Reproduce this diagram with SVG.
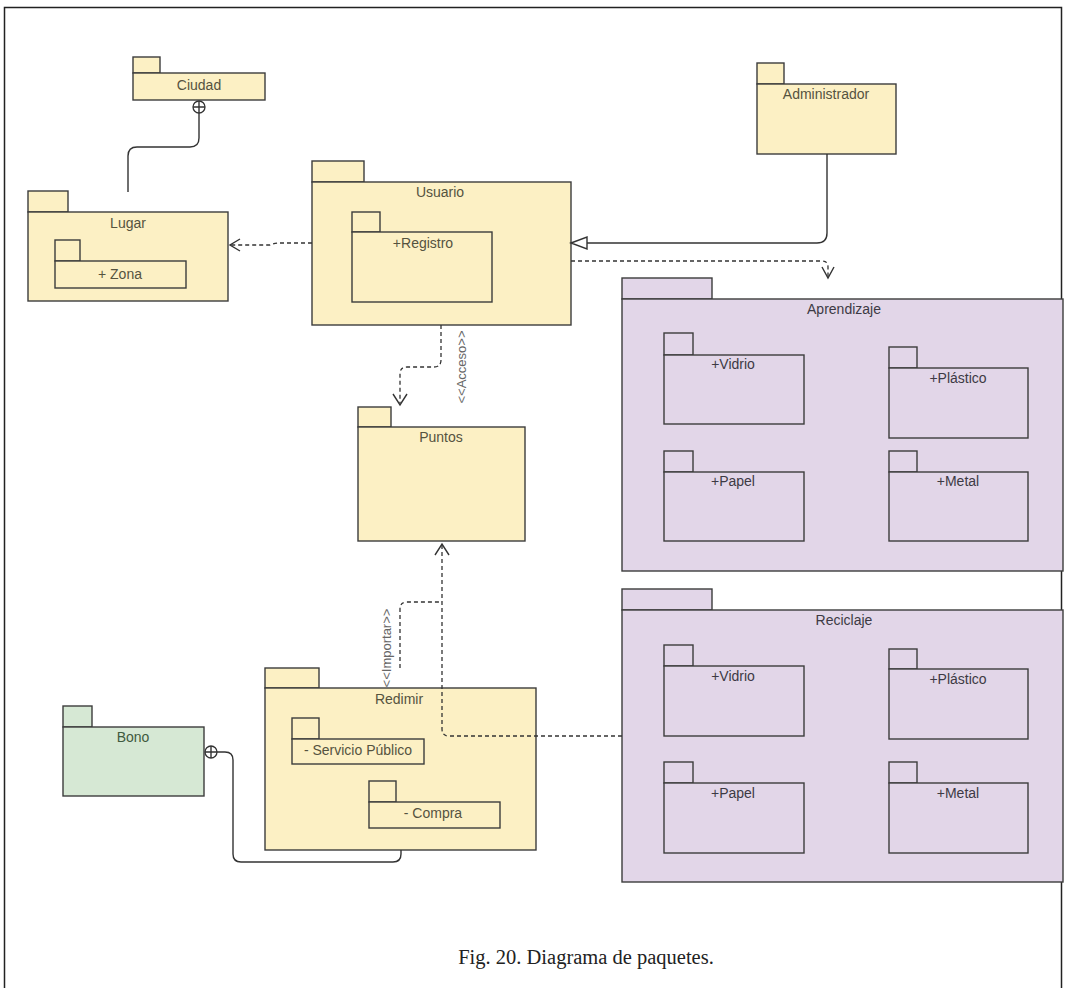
<svg xmlns="http://www.w3.org/2000/svg" width="1067" height="988" viewBox="0 0 1067 988">
<style>
.y{fill:#fcf0c4;stroke:#3c3c3c;stroke-width:1.4}
.p{fill:#e2d6e8;stroke:#3c3c3c;stroke-width:1.4}
.g{fill:#d6e8d4;stroke:#3c3c3c;stroke-width:1.4}
.t{font-family:"Liberation Sans",Arial,sans-serif;font-size:14px;fill:#55533f;text-anchor:middle}
.tp{font-family:"Liberation Sans",Arial,sans-serif;font-size:14px;fill:#3d3a44;text-anchor:middle}
.st{font-family:"Liberation Sans",Arial,sans-serif;font-size:13px;fill:#666;text-anchor:middle}
.dash{fill:none;stroke:#333;stroke-width:1.3;stroke-dasharray:4 3}
.solid{fill:none;stroke:#333;stroke-width:1.4}
.head{fill:none;stroke:#333;stroke-width:1.4}
</style>
<rect x="0" y="0" width="1067" height="988" fill="#fff"/>
<rect x="4.5" y="7.5" width="1057" height="995" fill="none" stroke="#222" stroke-width="1.5"/>

<g id="ciudad">
  <rect class="y" x="133" y="57" width="27" height="16"/>
  <rect class="y" x="133" y="73" width="132" height="27"/>
  <text class="t" x="199" y="90">Ciudad</text>
</g>

<g id="lugar">
  <rect class="y" x="28" y="191" width="40" height="21"/>
  <rect class="y" x="28" y="212" width="200" height="89"/>
  <text class="t" x="128" y="228">Lugar</text>
  <g id="zona">
    <rect class="y" x="55" y="240" width="25" height="21"/>
    <rect class="y" x="55" y="261" width="131" height="27"/>
    <text class="t" x="120" y="279">+ Zona</text>
  </g>
</g>

<g id="usuario">
  <rect class="y" x="312" y="161" width="52" height="21"/>
  <rect class="y" x="312" y="182" width="259" height="143"/>
  <text class="t" x="440" y="197">Usuario</text>
  <g id="registro">
    <rect class="y" x="352" y="212" width="28" height="20"/>
    <rect class="y" x="352" y="232" width="140" height="70"/>
    <text class="t" x="423" y="248">+Registro</text>
  </g>
</g>

<g id="administrador">
  <rect class="y" x="757" y="63" width="27" height="21"/>
  <rect class="y" x="757" y="84" width="139" height="70"/>
  <text class="t" x="826" y="99">Administrador</text>
</g>

<g id="puntos">
  <rect class="y" x="358" y="407" width="33" height="20"/>
  <rect class="y" x="358" y="427" width="167" height="114"/>
  <text class="t" x="441" y="442">Puntos</text>
</g>

<g id="redimir">
  <rect class="y" x="265" y="668" width="54" height="20"/>
  <rect class="y" x="265" y="688" width="271" height="162"/>
  <text class="t" x="399" y="704">Redimir</text>
  <g id="servicio">
    <rect class="y" x="292" y="718" width="27" height="21"/>
    <rect class="y" x="292" y="739" width="132" height="25"/>
    <text class="t" x="358" y="755">- Servicio Público</text>
  </g>
  <g id="compra">
    <rect class="y" x="369" y="781" width="27" height="21"/>
    <rect class="y" x="369" y="802" width="131" height="26"/>
    <text class="t" x="433" y="818">- Compra</text>
  </g>
</g>

<g id="bono">
  <rect class="g" x="63" y="706" width="29" height="21"/>
  <rect class="g" x="63" y="727" width="141" height="69"/>
  <text class="t" x="133" y="742" style="fill:#3f5a3e">Bono</text>
</g>

<g id="aprendizaje">
  <rect class="p" x="622" y="278" width="90" height="21"/>
  <rect class="p" x="622" y="299" width="441" height="272"/>
  <text class="tp" x="844" y="314">Aprendizaje</text>
  <g id="a-vidrio">
    <rect class="p" x="664" y="333" width="29" height="22"/>
    <rect class="p" x="664" y="355" width="140" height="69"/>
    <text class="tp" x="733" y="369">+Vidrio</text>
  </g>
  <g id="a-plastico">
    <rect class="p" x="889" y="347" width="28" height="21"/>
    <rect class="p" x="889" y="368" width="139" height="70"/>
    <text class="tp" x="958" y="383">+Plástico</text>
  </g>
  <g id="a-papel">
    <rect class="p" x="664" y="451" width="29" height="21"/>
    <rect class="p" x="664" y="472" width="140" height="69"/>
    <text class="tp" x="733" y="486">+Papel</text>
  </g>
  <g id="a-metal">
    <rect class="p" x="889" y="451" width="28" height="21"/>
    <rect class="p" x="889" y="472" width="139" height="69"/>
    <text class="tp" x="958" y="486">+Metal</text>
  </g>
</g>

<g id="reciclaje">
  <rect class="p" x="622" y="589" width="90" height="21"/>
  <rect class="p" x="622" y="610" width="441" height="272"/>
  <text class="tp" x="844" y="625">Reciclaje</text>
  <g id="r-vidrio">
    <rect class="p" x="664" y="645" width="29" height="21"/>
    <rect class="p" x="664" y="666" width="140" height="70"/>
    <text class="tp" x="733" y="681">+Vidrio</text>
  </g>
  <g id="r-plastico">
    <rect class="p" x="889" y="649" width="28" height="20"/>
    <rect class="p" x="889" y="669" width="139" height="70"/>
    <text class="tp" x="958" y="684">+Plástico</text>
  </g>
  <g id="r-papel">
    <rect class="p" x="664" y="762" width="29" height="21"/>
    <rect class="p" x="664" y="783" width="140" height="70"/>
    <text class="tp" x="733" y="798">+Papel</text>
  </g>
  <g id="r-metal">
    <rect class="p" x="889" y="762" width="28" height="21"/>
    <rect class="p" x="889" y="783" width="139" height="70"/>
    <text class="tp" x="958" y="798">+Metal</text>
  </g>
</g>

<g id="connectors">
  <path class="solid" d="M199,113 V138 Q199,147 190,147 H137 Q128,147 128,156 V192"/>
  <circle cx="199" cy="107" r="6" fill="#fff" stroke="#333" stroke-width="1.3"/>
  <path class="solid" d="M193,107 H205 M199,101 V113"/>
  <path class="dash" d="M312,243 H280 Q275,243 270,245 H231"/>
  <path class="head" d="M240,239 L230,245 L240,251"/>
  <path class="solid" d="M827,154 V233 Q827,243 817,243 H587"/>
  <path d="M571,243 L587,237 L587,249 Z" fill="#fff" stroke="#333" stroke-width="1.4"/>
  <path class="dash" d="M571,261 H822 Q828,261 828,267 V277"/>
  <path class="head" d="M822,267 L828,278 L834,267"/>
  <path class="dash" d="M441,325 V360 Q441,367 434,367 H407 Q400,367 400,374 V403"/>
  <path class="head" d="M393,394 L400,405 L407,394"/>
  <text class="st" transform="translate(466,367) rotate(-90)">&lt;&lt;Acceso&gt;&gt;</text>
  <path class="dash" d="M622,736 H449 Q442,736 442,729 V545"/>
  <path class="head" d="M435,555 L442,544 L449,555"/>
  <path class="dash" d="M400,668 V609 Q400,602 407,602 H442"/>
  <text class="st" transform="translate(391,648) rotate(-90)">&lt;&lt;Importar&gt;&gt;</text>
  <path class="solid" d="M217,752 H225 Q233,752 233,760 V854 Q233,862 241,862 H393 Q401,862 401,854 V850"/>
  <circle cx="211" cy="752" r="6" fill="#fff" stroke="#333" stroke-width="1.3"/>
  <path class="solid" d="M205,752 H217 M211,746 V758"/>
</g>

<text x="586" y="964" font-family="'Liberation Serif','Times New Roman',serif" font-size="20.5" fill="#222" text-anchor="middle">Fig. 20. Diagrama de paquetes.</text>
</svg>
